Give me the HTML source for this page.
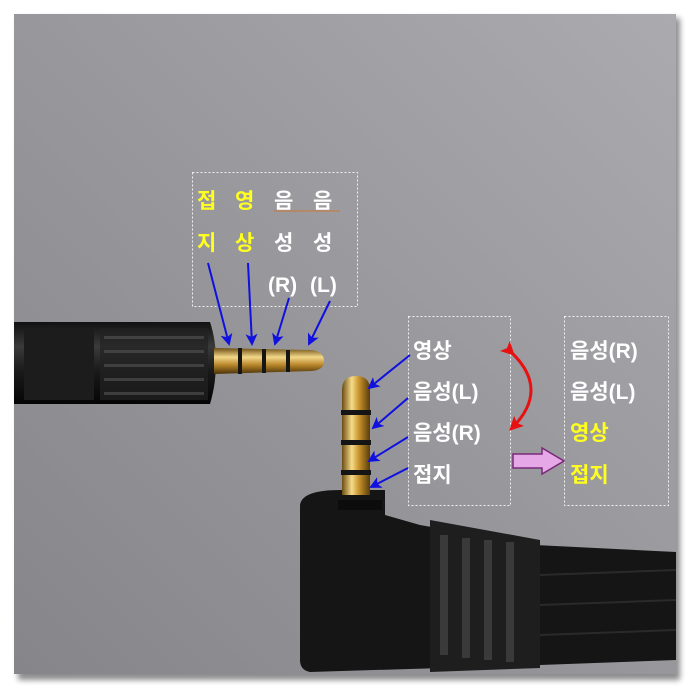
<!DOCTYPE html>
<html><head><meta charset="utf-8"><style>
html,body{margin:0;padding:0;background:#fff;width:688px;height:688px;overflow:hidden}
svg{display:block}
text{font-family:"Liberation Sans","Noto Sans CJK KR","NanumGothic",sans-serif;font-weight:bold}
</style></head><body>
<svg width="688" height="688" viewBox="0 0 688 688">
<defs>
<linearGradient id="bg" x1="0" y1="1" x2="1" y2="0">
<stop offset="0" stop-color="#85858a"/><stop offset="0.5" stop-color="#98989c"/><stop offset="1" stop-color="#ababaf"/>
</linearGradient>
<linearGradient id="gold" x1="0" y1="0" x2="1" y2="0">
<stop offset="0" stop-color="#6b4d12"/><stop offset="0.35" stop-color="#f6dc8a"/><stop offset="0.6" stop-color="#c9952e"/><stop offset="1" stop-color="#5a3c0a"/>
</linearGradient>
<linearGradient id="goldh" x1="0" y1="0" x2="0" y2="1">
<stop offset="0" stop-color="#6b4d12"/><stop offset="0.35" stop-color="#f3d88a"/><stop offset="0.65" stop-color="#b8862a"/><stop offset="1" stop-color="#4a320a"/>
</linearGradient>
<linearGradient id="blk" x1="0" y1="0" x2="0" y2="1">
<stop offset="0" stop-color="#111"/><stop offset="0.3" stop-color="#3a3a3a"/><stop offset="0.6" stop-color="#1a1a1a"/><stop offset="1" stop-color="#050505"/>
</linearGradient>
<marker id="ab" markerWidth="12" markerHeight="12" refX="10" refY="6" orient="auto" markerUnits="userSpaceOnUse"><path d="M0,0 L12,6 L0,12 L3,6 z" fill="#1010e0"/></marker>
<marker id="ar" markerWidth="14" markerHeight="14" refX="10" refY="7" orient="auto" markerUnits="userSpaceOnUse"><path d="M0,0 L14,7 L0,14 L3,7 z" fill="#e81010"/></marker>
<filter id="sh"><feGaussianBlur stdDeviation="3"/></filter>
</defs>
<rect x="18" y="18" width="662" height="662" fill="#000" opacity="0.45" filter="url(#sh)"/>
<rect x="14" y="14" width="662" height="660" fill="url(#bg)"/>
<!-- left jack -->
<path d="M14,322 L210,322 Q216,340 216,362 Q216,384 210,404 L14,404 Z" fill="url(#blk)"/>
<rect x="24" y="328" width="70" height="72" fill="#1c1c1c"/>
<rect x="100" y="328" width="108" height="72" fill="#222" opacity="0.7"/>
<g fill="#555" opacity="0.6">
<rect x="104" y="336" width="100" height="3"/><rect x="104" y="350" width="100" height="3"/><rect x="104" y="364" width="100" height="3"/><rect x="104" y="378" width="100" height="3"/><rect x="104" y="392" width="100" height="3"/>
</g>
<path d="M214,348 L312,350 Q324,352 324,361 Q324,370 312,371 L214,374 Z" fill="url(#goldh)"/>
<g fill="#151515"><rect x="238" y="348" width="4" height="26"/><rect x="262" y="349" width="4" height="24"/><rect x="286" y="350" width="4" height="22"/></g>
<!-- right jack -->
<path d="M300,505 Q302,490 340,490 L385,490 L385,515 L420,525 L535,545 L676,552 L676,660 L540,665 L310,672 Q300,670 300,660 Z" fill="#151515"/>
<path d="M430,520 L540,540 L540,668 L430,672 Z" fill="#1e1e1e"/>
<g fill="#3a3a3a"><rect x="440" y="535" width="8" height="120"/><rect x="462" y="538" width="8" height="120"/><rect x="484" y="540" width="8" height="120"/><rect x="506" y="542" width="8" height="120"/></g>
<g stroke="#2a2a2a" stroke-width="2"><line x1="540" y1="575" x2="676" y2="570"/><line x1="540" y1="605" x2="676" y2="600"/><line x1="540" y1="635" x2="676" y2="630"/></g>
<rect x="338" y="500" width="44" height="10" fill="#0c0c0c"/>
<path d="M342,495 L342,390 Q342,376 356,376 Q370,376 370,390 L370,495 Z" fill="url(#gold)"/>
<g fill="#151515"><rect x="341" y="410" width="30" height="5"/><rect x="341" y="440" width="30" height="5"/><rect x="341" y="470" width="30" height="5"/></g>
<!-- boxes -->
<g fill="none" stroke="#fff" stroke-width="1" stroke-dasharray="2,2" opacity="0.85">
<rect x="192.5" y="172.5" width="165" height="134"/>
<rect x="408.5" y="316.5" width="102" height="189"/>
<rect x="564.5" y="316.5" width="104" height="189"/>
</g>
<line x1="274" y1="211" x2="340" y2="211" stroke="#c87830" stroke-width="1"/>
<g font-size="21">
<text x="197" y="208" fill="#ffff20">접</text><text x="235" y="208" fill="#ffff20">영</text><text x="274" y="208" fill="#fff">음</text><text x="313" y="208" fill="#fff">음</text>
<text x="197" y="250" fill="#ffff20">지</text><text x="235" y="250" fill="#ffff20">상</text><text x="274" y="250" fill="#fff">성</text><text x="313" y="250" fill="#fff">성</text>
<text x="268" y="292" fill="#fff">(R)</text><text x="310" y="292" fill="#fff">(L)</text>
<text x="413" y="358" fill="#fff">영상</text>
<text x="413" y="399" fill="#fff">음성(L)</text>
<text x="413" y="440" fill="#fff">음성(R)</text>
<text x="413" y="482" fill="#fff">접지</text>
<text x="570" y="358" fill="#fff">음성(R)</text>
<text x="570" y="399" fill="#fff">음성(L)</text>
<text x="570" y="440" fill="#ffff20">영상</text>
<text x="570" y="482" fill="#ffff20">접지</text>
</g>
<!-- blue arrows -->
<g stroke="#1010e0" stroke-width="2" marker-end="url(#ab)">
<line x1="208" y1="263" x2="229" y2="344"/>
<line x1="248" y1="263" x2="252" y2="344"/>
<line x1="289" y1="298" x2="275" y2="344"/>
<line x1="330" y1="301" x2="309" y2="344"/>
<line x1="410" y1="355" x2="369" y2="388"/>
<line x1="408" y1="398" x2="373" y2="428"/>
<line x1="408" y1="437" x2="369" y2="461"/>
<line x1="408" y1="468" x2="371" y2="487"/>
</g>
<!-- red double arrow -->
<path d="M512,353 Q550,390 512,428" fill="none" stroke="#e81010" stroke-width="3" marker-start="url(#ar)" marker-end="url(#ar)"/>
<!-- pink arrow -->
<path d="M513,454 L542,454 L542,448 L564,461 L542,474 L542,468 L513,468 Z" fill="#e6a8e6" stroke="#7a2a7a" stroke-width="1.5"/>
</svg>
</body></html>
